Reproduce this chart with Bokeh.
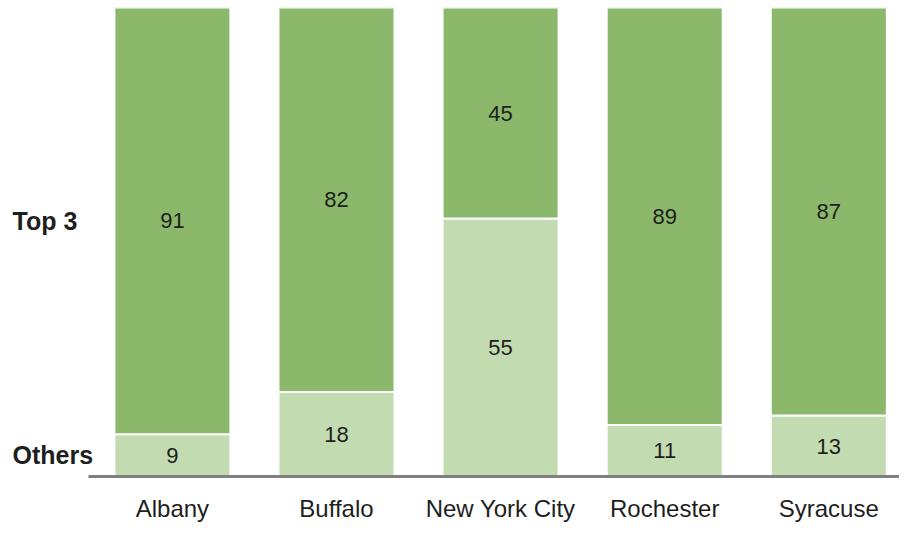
from bokeh.plotting import figure
from bokeh.models import ColumnDataSource, Range1d, FixedTicker
from bokeh.core.properties import value
from bokeh.embed import file_html
from bokeh.resources import INLINE

cities = ["Albany", "Buffalo", "New York City", "Rochester", "Syracuse"]
others = [9, 18, 55, 11, 13]
top3 = [91, 82, 45, 89, 87]
series_names = ["Others", "Top 3"]

DARK = "#8BB86A"
LIGHT = "#C3DBB1"
FONT = "Liberation Sans"
TXT = "#1e1e1e"

xs = list(range(len(cities)))
src = ColumnDataSource(dict(
    x=xs,
    o_top=others,
    t_top=[o + t for o, t in zip(others, top3)],
    o_mid=[o / 2 for o in others],
    t_mid=[o + t / 2 for o, t in zip(others, top3)],
    o_lab=[str(v) for v in others],
    t_lab=[str(v) for v in top3],
))

# layout geometry (px): unit spacing between bars and first bar centre
unit = 164.1
x0_px = 171.9
frame_w = 899
x_start = -x0_px / unit
x_end = (frame_w - x0_px) / unit
axis_left = x_start + 88 / unit
label_x = x_start + 12 / unit

p = figure(width=899, height=524, output_backend="svg", toolbar_location=None,
           x_range=Range1d(x_start, x_end), y_range=Range1d(0, 100),
           min_border_left=0, min_border_right=0, min_border_top=7,
           min_border_bottom=46)

p.vbar(x="x", width=0.707, bottom=0, top="o_top", source=src,
       fill_color=LIGHT, line_color="white", line_width=2)
p.vbar(x="x", width=0.707, bottom="o_top", top="t_top", source=src,
       fill_color=DARK, line_color="white", line_width=2)

for ycol, tcol in (("o_mid", "o_lab"), ("t_mid", "t_lab")):
    p.text(x="x", y=ycol, text=tcol, source=src, text_align="center",
           text_baseline="middle", text_font=value(FONT),
           text_font_size="22px", text_color=TXT)

side_src = ColumnDataSource(dict(
    x=[label_x, label_x],
    y=[others[0] / 2, others[0] + top3[0] / 2],
    text=series_names,
))
p.text(x="x", y="y", text="text", source=side_src, text_align="left",
       text_baseline="middle", text_font=value(FONT), text_font_size="25px",
       text_font_style="bold", text_color=TXT)

p.xaxis.bounds = (axis_left, x_end)
p.xaxis.ticker = FixedTicker(ticks=xs)
p.xaxis.major_label_overrides = {i: c for i, c in enumerate(cities)}
p.xaxis.axis_line_color = "#808080"
p.xaxis.axis_line_width = 3
p.xaxis.major_tick_line_color = None
p.xaxis.major_tick_out = 0
p.xaxis.major_tick_in = 0
p.xaxis.minor_tick_line_color = None
p.xaxis.major_label_standoff = 18
p.xaxis.major_label_text_font = FONT
p.xaxis.major_label_text_font_size = "24px"
p.xaxis.major_label_text_color = TXT
p.yaxis.visible = False
p.grid.visible = False
p.outline_line_color = None
p.background_fill_color = "white"
p.border_fill_color = "white"

open("out.html", "w").write(file_html(p, INLINE))
